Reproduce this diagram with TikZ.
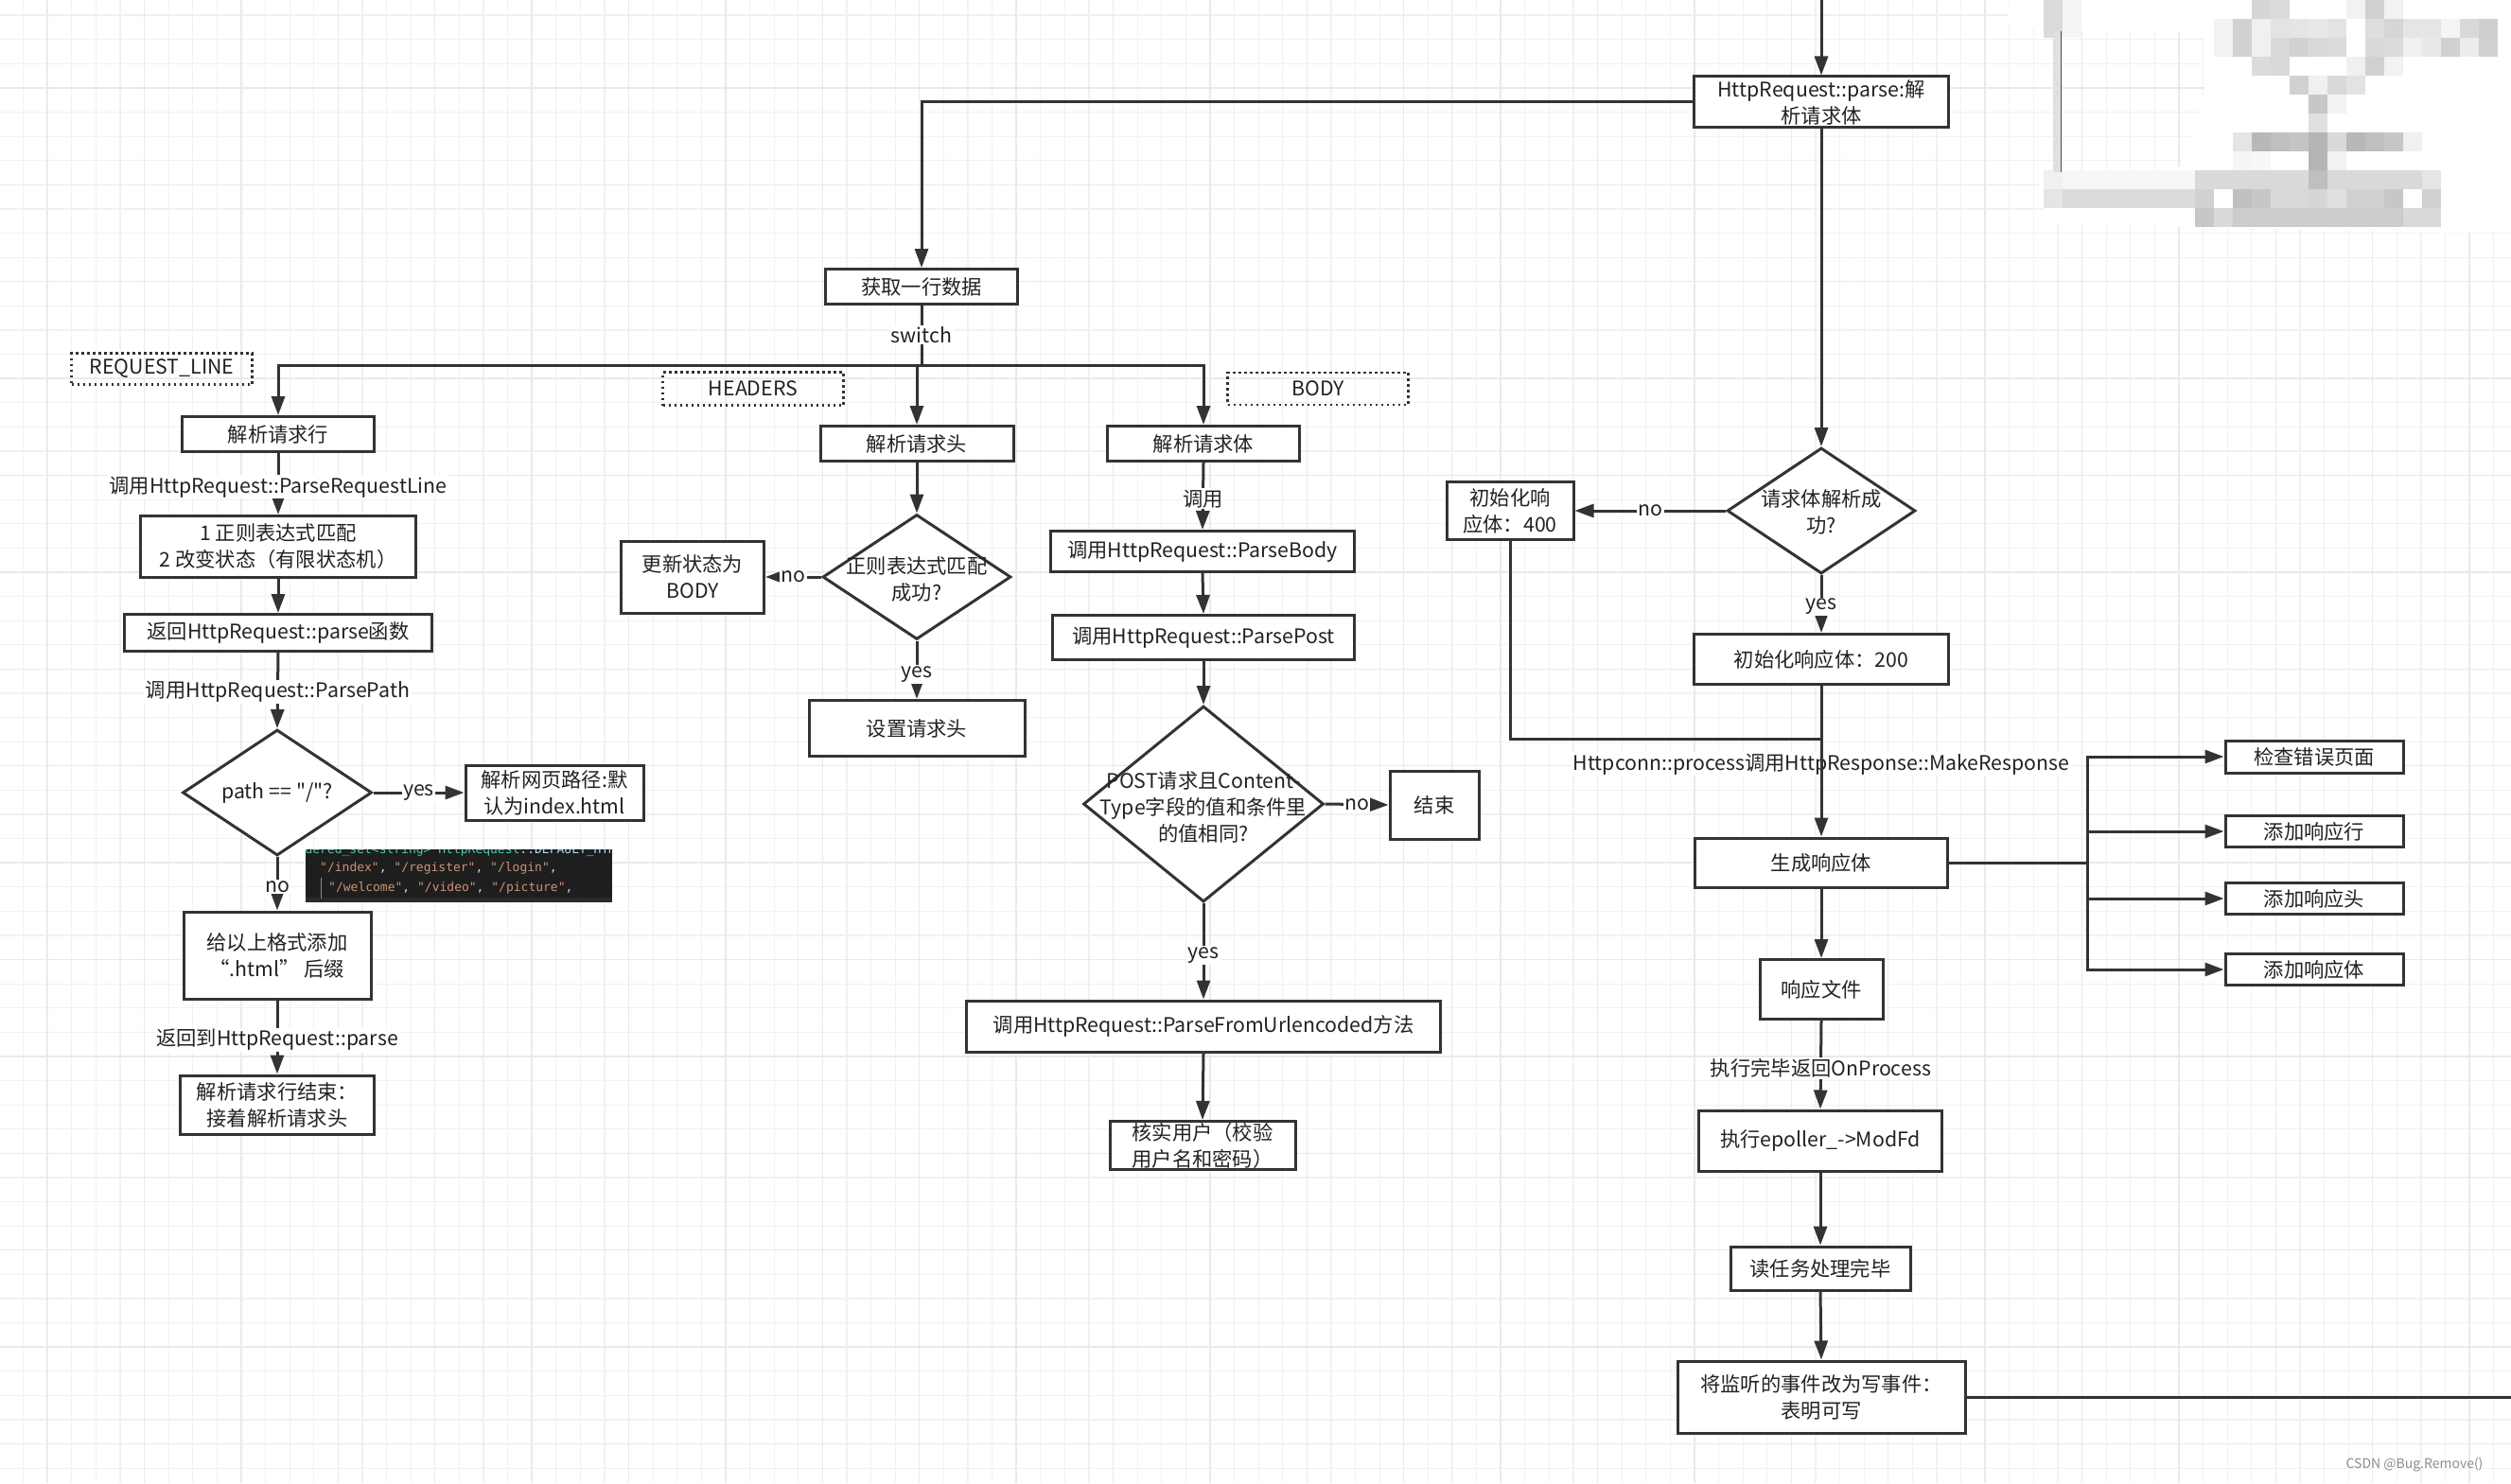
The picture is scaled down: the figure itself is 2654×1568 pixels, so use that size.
\documentclass[tikz,border=0pt]{standalone}
\usepackage{fontspec}
\setmainfont{Noto Sans CJK SC}
\newfontfamily\cjkfont{Noto Sans CJK SC}
\newfontfamily\codefont{DejaVu Sans Mono}
\usetikzlibrary{arrows.meta,shapes.geometric,calc}
\definecolor{lc}{HTML}{333333}
\definecolor{tc}{HTML}{222222}
\definecolor{gminor}{HTML}{F1F1F1}
\definecolor{gmajor}{HTML}{EAEAEA}
\definecolor{codebg}{HTML}{1E1E1E}
\definecolor{codebot}{HTML}{2A2A2A}
\definecolor{cstr}{HTML}{CE9178}
\definecolor{cpun}{HTML}{D4D4D4}
\definecolor{cteal}{HTML}{4EC9B0}
\definecolor{cblue}{HTML}{9CDCFE}
\newcommand\myfs{\cjkfont\fontsize{21.3}{28}\selectfont}
\begin{document}
\begin{tikzpicture}[x=1pt,y=-1pt,
  wh/.style 2 args={minimum width=#1pt,minimum height=#2pt},
  box/.style={draw=lc,line width=3pt,fill=white,align=center,inner sep=0pt,font=\myfs,text=tc},
  dia/.style={diamond,draw=lc,line width=3pt,fill=white,inner sep=0pt},
  dtext/.style={align=center,inner sep=0pt,font=\myfs,text=tc},
  tagbox/.style={draw=lc,line width=2.6pt,dash pattern=on 2.6pt off 3.4pt,align=center,inner sep=0pt,font=\myfs,text=tc},
  arr/.style={draw=lc,line width=3pt,-{Triangle[length=20pt,width=14pt]}},
  ln/.style={draw=lc,line width=3pt},
  lab/.style={fill=white,inner sep=1.5pt,font=\myfs,text=tc},
]
\useasboundingbox (0,0) rectangle (2654,1568);
\fill[white] (0,0) rectangle (2654,1568);
% grid
\foreach \i in {0,...,103} {\draw[gminor,line width=1.2pt] ({24.5+25.6*\i},0) -- ++(0,1568);}
\foreach \j in {0,...,61} {\draw[gminor,line width=1.2pt] (0,{16.1+25.6*\j}) -- ++(2654,0);}
\foreach \i in {0,...,25} {\draw[gmajor,line width=1.3pt] ({50.1+102.4*\i},0) -- ++(0,1568);}
\foreach \j in {0,...,14} {\draw[gmajor,line width=1.3pt] (0,{92.9+102.4*\j}) -- ++(2654,0);}

% mosaic (blurred area, top right)
\fill[white,rounded corners=12pt] (2122,0) -- (2654,0) -- (2654,242) -- (2600,247) -- (2165,236) -- (2148,195) -- (2300,186) -- (2330,100) -- (2330,34) -- (2122,30) -- cycle;
\foreach \c/\r/\k in {0/0/14,1/0/4,11/0/16,12/0/14,16/0/5,17/0/18,18/0/5,
  0/1/14,1/1/4,9/1/5,10/1/18,11/1/6,12/1/11,13/1/10,14/1/9,15/1/11,17/1/13,18/1/16,19/1/10,20/1/10,21/1/4,22/1/15,23/1/19,
  9/2/5,10/2/18,11/2/6,12/2/15,13/2/18,14/2/15,15/2/14,17/2/15,18/2/14,19/2/6,20/2/9,21/2/18,22/2/7,23/2/18,
  11/3/14,12/3/15,16/3/6,17/3/18,18/3/5,
  13/4/18,14/4/6,15/4/15,16/4/11,
  14/5/22,15/5/5,14/6/12,
  10/7/10,11/7/28,12/7/25,13/7/23,14/7/29,15/7/15,16/7/28,17/7/25,18/7/22,19/7/6,
  10/8/4,11/8/3,14/8/29,15/8/5,
  0/9/6,1/9/3,2/9/3,3/9/3,4/9/3,5/9/3,6/9/3,7/9/3,8/9/15,9/9/15,10/9/15,11/9/15,12/9/15,13/9/15,14/9/25,15/9/15,16/9/15,17/9/15,18/9/15,19/9/15,20/9/10,
  0/10/10,1/10/14,2/10/14,3/10/14,4/10/14,5/10/14,6/10/14,7/10/14,8/10/18,10/10/25,11/10/22,12/10/15,13/10/15,14/10/16,15/10/12,16/10/18,17/10/18,18/10/22,20/10/18,
  8/11/22,9/11/15,10/11/20,11/11/20,12/11/20,13/11/20,14/11/20,15/11/20,16/11/20,17/11/20,18/11/20,19/11/15,20/11/15}
  {\fill[black!\k] ({2160+20*\c},{20*\r}) rectangle ++(20,20);}
\fill[black!12] (2170,33) rectangle (2178,182);
\draw[black!70,line width=0.8pt] (2178,33) -- (2178,182);

% ---------- left column: REQUEST_LINE ----------
\node[tagbox,wh={191}{33}] (rltag) at (171,390) {REQUEST\_LINE};
\node[box,wh={203}{37}] (prl) at (294,459) {解析请求行};
\node[box,wh={291}{65}] (re) at (294,578) {1 正则表达式匹配\\2 改变状态（有限状态机）};
\node[box,wh={325}{39}] (ret) at (294,669) {返回HttpRequest::parse函数};
\node[dia,wh={200}{133}] (d1) at (293,838) {};
\node[dtext] (d1t) at (293,838) {path == "/"?};
\node[box,wh={188}{58}] (idx) at (586,838) {解析网页路径:默\\认为index.html};
\node[box,wh={198}{92}] (html) at (293,1010) {给以上格式添加\\“.html” 后缀};
\node[box,wh={205}{62}] (endrl) at (293,1168) {解析请求行结束：\\接着解析请求头};

% code snippet picture
\node[fill=codebg,anchor=north west,inner sep=0pt,wh={324}{56}] (code) at (323,898) {};
\fill[codebot] (323,949) rectangle (647,954);
\begin{scope}
\clip (323,898) rectangle (647,954);
\node[anchor=west,inner sep=0pt,font=\codefont\fontsize{13}{13}\selectfont] (codel0) at (291,899)
  {\textcolor{cteal}{unordered\_set<string> HttpRequest}\textcolor{cpun}{::}\textcolor{cblue}{DEFAULT\_HTML}};
\end{scope}
\node[anchor=west,inner sep=0pt,font=\codefont\fontsize{13}{13}\selectfont] (codel1) at (338,918)
  {\textcolor{cstr}{"/index"}\textcolor{cpun}{, }\textcolor{cstr}{"/register"}\textcolor{cpun}{, }\textcolor{cstr}{"/login"}\textcolor{cpun}{,}};
\draw[black!45,line width=0.8pt] (339,928) -- (339,950);
\node[anchor=west,inner sep=0pt,font=\codefont\fontsize{13}{13}\selectfont] (codel2) at (347,939)
  {\textcolor{cstr}{"/welcome"}\textcolor{cpun}{, }\textcolor{cstr}{"/video"}\textcolor{cpun}{, }\textcolor{cstr}{"/picture"}\textcolor{cpun}{,}};

% ---------- middle: HEADERS ----------
\node[box,wh={203}{37}] (fetch) at (974,303) {获取一行数据};
\node[tagbox,wh={191}{35}] (hdrtag) at (796,411) {HEADERS};
\node[box,wh={204}{37}] (ph) at (969,469) {解析请求头};
\node[dia,wh={199}{132}] (d2) at (969,610) {};
\node[dtext] (d2t) at (969,612) {正则表达式匹配\\成功?};
\node[box,wh={151}{76}] (upd) at (732,610) {更新状态为\\BODY};
\node[box,wh={228}{59}] (seth) at (969,770) {设置请求头};

% ---------- BODY ----------
\node[tagbox,wh={191}{34}] (bodytag) at (1393,411) {BODY};
\node[box,wh={203}{37}] (pb) at (1272,469) {解析请求体};
\node[box,wh={321}{43}] (pbody) at (1271,583) {调用HttpRequest::ParseBody};
\node[box,wh={319}{47}] (ppost) at (1272,674) {调用HttpRequest::ParsePost};
\node[dia,wh={254}{207}] (d3) at (1272,850) {};
\node[dtext] (d3t) at (1272,853) {POST请求且Content-\\Type字段的值和条件里\\的值相同?};
\node[box,wh={94}{72}] (fin) at (1516,851) {结束};
\node[box,wh={501}{54}] (url) at (1272,1085) {调用HttpRequest::ParseFromUrlencoded方法};
\node[box,wh={196}{51}] (verify) at (1271,1211) {核实用户（校验\\用户名和密码）};

% ---------- right ----------
\coordinate (topin) at (1925,0);
\node[box,wh={269}{54}] (parse) at (1925,108) {HttpRequest::parse:解\\析请求体};
\node[dia,wh={199}{133}] (d4) at (1925,540) {};
\node[dtext] (d4t) at (1925,541) {请求体解析成\\功?};
\node[box,wh={134}{61}] (r400) at (1596,540) {初始化响\\应体：400};
\node[box,wh={269}{53}] (r200) at (1925,697) {初始化响应体：200};
\coordinate (join) at (1925,781);
\node[box,wh={267}{52}] (gen) at (1925,912) {生成响应体};
\coordinate (bus) at (2206,912);
\node[box,wh={188}{34}] (chk) at (2446,800) {检查错误页面};
\node[box,wh={188}{33}] (addl) at (2446,879) {添加响应行};
\node[box,wh={188}{33}] (addh) at (2446,950) {添加响应头};
\node[box,wh={188}{33}] (addb) at (2446,1025) {添加响应体};
\node[box,wh={130}{63}] (file) at (1925,1046) {响应文件};
\node[box,wh={257}{64}] (modfd) at (1924,1206) {执行epoller\_->ModFd};
\node[box,wh={190}{46}] (rdone) at (1924,1341) {读任务处理完毕};
\node[box,wh={304}{76}] (wr) at (1925,1477) {将监听的事件改为写事件：\\表明可写};
\coordinate (out) at (2654,1477);

% ---------- connectors ----------
\coordinate (sw) at (974,386);
\draw[ln] (fetch.south) -- (sw) node[lab,pos=0.49] (lsw) {switch};
\draw[arr] (sw) -| (prl.north);
\draw[arr] (sw) -| (ph.north);
\draw[arr] (sw) -| (pb.north);

\draw[arr] (prl.south) -- (re.north) node[lab,pos=0.55] (l1) {调用HttpRequest::ParseRequestLine};
\draw[arr] (re.south) -- (ret.north);
\draw[arr] (ret.south) -- (d1.north) node[lab,pos=0.52] (l2) {调用HttpRequest::ParsePath};
\draw[arr] (d1.east) -- (idx.west) node[lab,pos=0.5] (l3) {yes};
\draw[arr] (d1.south) -- (html.north) node[lab,pos=0.56] (l4) {no};
\draw[arr] (html.south) -- (endrl.north) node[lab,pos=0.54] (l5) {返回到HttpRequest::parse};

\draw[arr] (ph.south) -- (d2.north);
\draw[arr] (d2.west) -- (upd.east) node[lab,pos=0.5] (l6) {no};
\draw[arr] (d2.south) -- (seth.north) node[lab,pos=0.58] (l7) {yes};

\draw[arr] (pb.south) -- (pbody.north) node[lab,pos=0.54] (l8) {调用};
\draw[arr] (pbody.south) -- (ppost.north);
\draw[arr] (ppost.south) -- (d3.north);
\draw[arr] (d3.east) -- (fin.west) node[lab,pos=0.5] (l9) {no};
\draw[arr] (d3.south) -- (url.north) node[lab,pos=0.54] (l10) {yes};
\draw[arr] (url.south) -- (verify.north);

\draw[arr] (topin) -- (parse.north);
\draw[arr] (parse.west) -| (fetch.north);
\draw[arr] (parse.south) -- (d4.north);
\draw[arr] (d4.west) -- (r400.east) node[lab,pos=0.5] (l11) {no};
\draw[arr] (d4.south) -- (r200.north) node[lab,pos=0.55] (l12) {yes};
\draw[ln] (r400.south) |- (join);
\path (r200.south) -- (gen.north) node[lab,pos=0.52] (l13) {Httpconn::process调用HttpResponse::MakeResponse};
\draw[arr] (r200.south) -- (gen.north);
\draw[ln] (gen.east) -- (bus);
\draw[arr] (bus) |- (chk.west);
\draw[arr] (bus) |- (addl.west);
\draw[arr] (bus) |- (addh.west);
\draw[arr] (bus) |- (addb.west);
\draw[arr] (gen.south) -- (file.north);
\draw[arr] (file.south) -- (modfd.north) node[lab,pos=0.54] (l14) {执行完毕返回OnProcess};
\draw[arr] (modfd.south) -- (rdone.north);
\draw[arr] (rdone.south) -- (wr.north);
\draw[ln] (wr.east) -- (out);

\node[font=\cjkfont\fontsize{14}{14}\selectfont,text=black!45,inner sep=0pt] (wm) at (2552,1549) {CSDN @Bug.Remove()};
\end{tikzpicture}
\end{document}
